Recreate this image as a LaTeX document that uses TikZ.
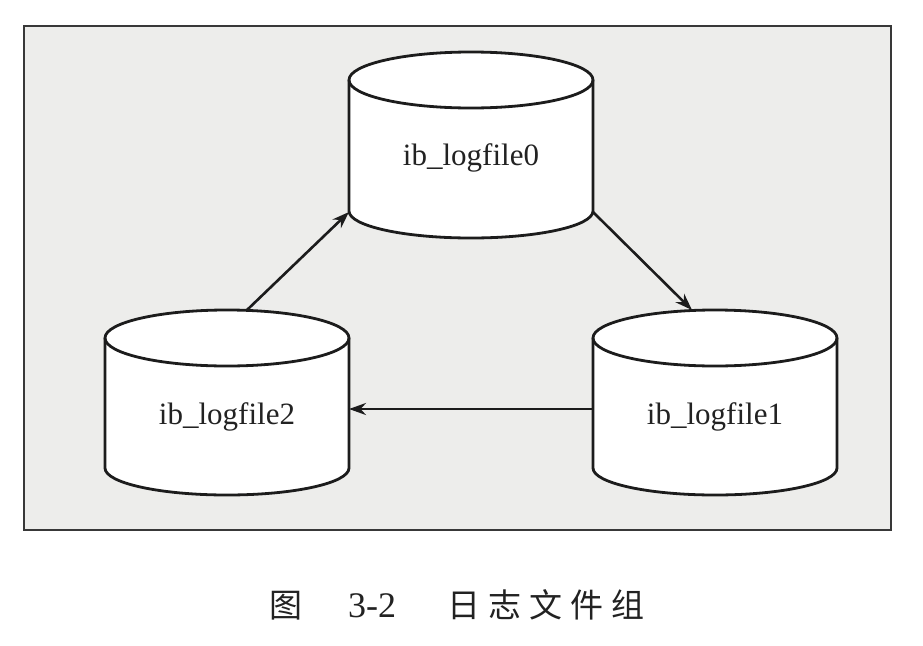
\documentclass[tikz,border=0pt]{standalone}
\usepackage{fontspec}
\setmainfont{Liberation Serif}
\newfontfamily\cjk{Noto Sans CJK SC}
\usetikzlibrary{arrows.meta}
\definecolor{framefill}{HTML}{EDEDEB}
\definecolor{frameline}{HTML}{383838}
\definecolor{inkc}{HTML}{1C1C1C}
\definecolor{textc}{HTML}{222222}
\tikzset{
  cylline/.style={draw=inkc, line width=2.8pt, fill=white, line join=round},
  cyllabel/.style={text=textc, font=\fontsize{31}{36}\selectfont, inner sep=0pt},
  flow/.style={draw=inkc, line width=2.6pt, -{Stealth[length=17pt,width=12pt]}},
}
\newcommand{\dbcyl}[3]{% cx, ytop, ybottom
  \path[cylline] (#1-122,-#2) -- (#1-122,-#3) arc[start angle=180,end angle=360,x radius=122,y radius=27] -- (#1+122,-#2) arc[start angle=0,end angle=180,x radius=122,y radius=28] -- cycle;
  \draw[cylline, fill=none] (#1-122,-#2) arc[start angle=180,end angle=360,x radius=122,y radius=28];
}
\begin{document}
\begin{tikzpicture}[x=1pt,y=1pt]
\useasboundingbox (0,0) rectangle (923,-645);
\fill[white] (0,0) rectangle (923,-645);
\path[fill=framefill, draw=frameline, line width=2.8pt] (24,-26) rectangle (891,-530);
% cylinders
\dbcyl{471}{80}{211}
\dbcyl{227}{338}{468}
\dbcyl{715}{338}{468}
\node[cyllabel] (f0) at (471,-158) {ib\_logfile0};
\node[cyllabel] (f2) at (227,-417) {ib\_logfile2};
\node[cyllabel] (f1) at (715,-417) {ib\_logfile1};
% connector end points on the cylinder outlines
\coordinate (f0bl) at (349,-212);
\coordinate (f0br) at (593,-212);
\coordinate (f2top) at (247,-310);
\coordinate (f1top) at (692,-310);
\coordinate (f1left) at (593,-409);
\coordinate (f2right) at (349,-409);
\draw[flow] (f2top) -- (f0bl);
\draw[flow] (f0br) -- (f1top);
\draw[flow] (f1left) -- (f2right);
% caption
\node[anchor=west, text=textc, inner sep=0pt] (cap) at (269,-605)
  {{\cjk\fontsize{33}{36}\selectfont 图}\hspace{46pt}{\fontsize{36}{40}\selectfont 3-2}\hspace{51pt}{\cjk\fontsize{33}{36}\selectfont 日\hspace{8pt}志\hspace{8pt}文\hspace{8pt}件\hspace{8pt}组}};
\end{tikzpicture}
\end{document}
